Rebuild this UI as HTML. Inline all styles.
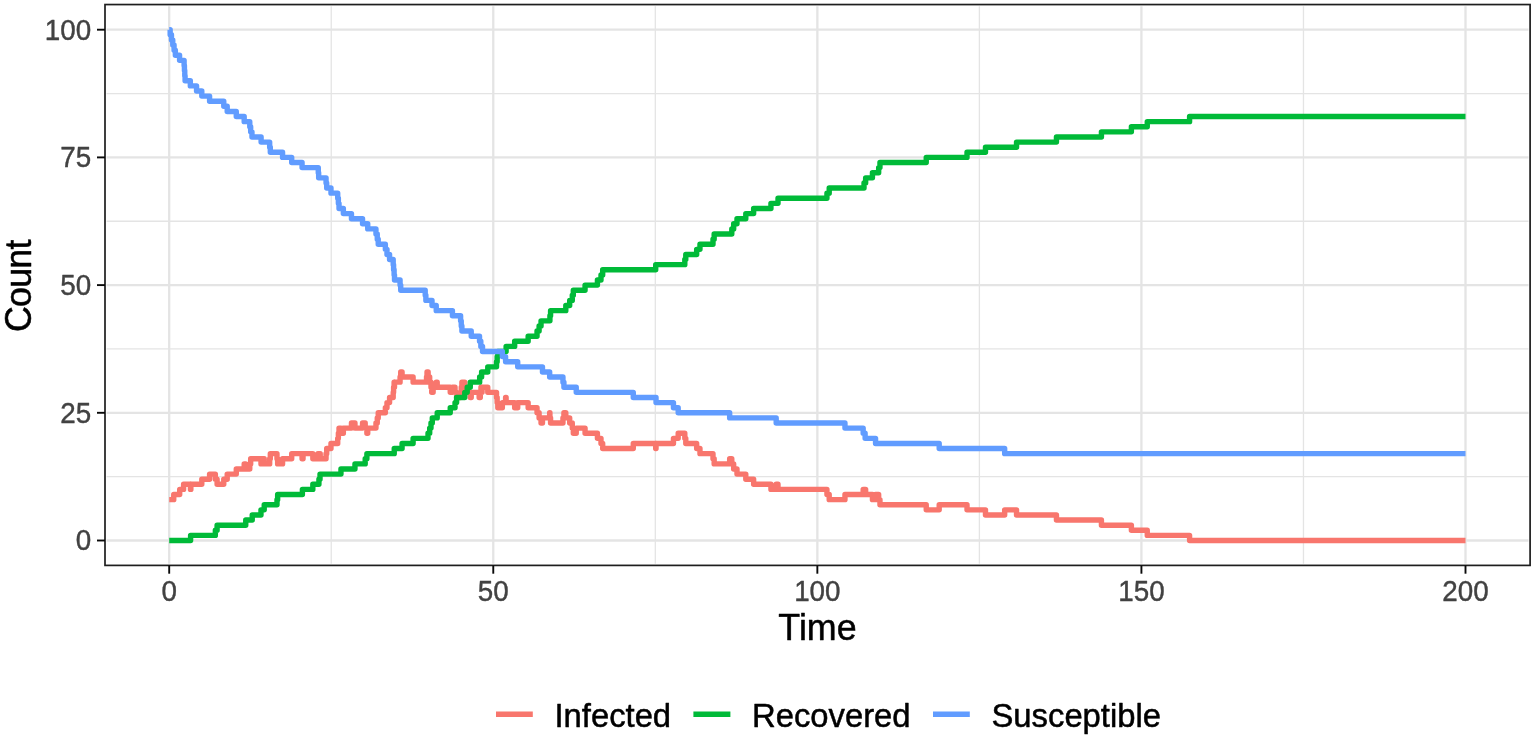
<!DOCTYPE html>
<html lang="en">
<head>
<meta charset="utf-8">
<title>Count over Time</title>
<style>
html,body{margin:0;padding:0;background:#fff;}
body{width:1535px;height:737px;overflow:hidden;}
svg{display:block;}
.t{font-family:"Liberation Sans",Arial,Helvetica,sans-serif;}
</style>
</head>
<body>
<svg width="1535" height="737" viewBox="0 0 1535 737">
<rect width="1535" height="737" fill="#fff"/>
<g stroke="#e4e4e4" fill="none">
<line x1="331.24" x2="331.24" y1="6.15" y2="563.8" stroke-width="1.3"/>
<line x1="655.31" x2="655.31" y1="6.15" y2="563.8" stroke-width="1.3"/>
<line x1="979.39" x2="979.39" y1="6.15" y2="563.8" stroke-width="1.3"/>
<line x1="1303.46" x2="1303.46" y1="6.15" y2="563.8" stroke-width="1.3"/>
<line y1="476.65" y2="476.65" x1="106.6" x2="1528.5" stroke-width="1.3"/>
<line y1="348.95" y2="348.95" x1="106.6" x2="1528.5" stroke-width="1.3"/>
<line y1="221.25" y2="221.25" x1="106.6" x2="1528.5" stroke-width="1.3"/>
<line y1="93.55" y2="93.55" x1="106.6" x2="1528.5" stroke-width="1.3"/>
<line x1="169.20" x2="169.20" y1="6.15" y2="563.8" stroke-width="2.3"/>
<line x1="493.27" x2="493.27" y1="6.15" y2="563.8" stroke-width="2.3"/>
<line x1="817.35" x2="817.35" y1="6.15" y2="563.8" stroke-width="2.3"/>
<line x1="1141.42" x2="1141.42" y1="6.15" y2="563.8" stroke-width="2.3"/>
<line x1="1465.50" x2="1465.50" y1="6.15" y2="563.8" stroke-width="2.3"/>
<line y1="540.50" y2="540.50" x1="106.6" x2="1528.5" stroke-width="2.3"/>
<line y1="412.80" y2="412.80" x1="106.6" x2="1528.5" stroke-width="2.3"/>
<line y1="285.10" y2="285.10" x1="106.6" x2="1528.5" stroke-width="2.3"/>
<line y1="157.40" y2="157.40" x1="106.6" x2="1528.5" stroke-width="2.3"/>
<line y1="29.70" y2="29.70" x1="106.6" x2="1528.5" stroke-width="2.3"/>
</g>
<g fill="none" stroke-width="5.4" stroke-linejoin="round" stroke-linecap="butt">
<path stroke="#f8766d" d="M169.2,499.64L173.74,499.64L173.74,494.53L179.7,494.53L179.7,489.42L183.59,489.42L183.59,484.31L190.46,484.31L190.46,489.42L190.85,489.42L190.85,484.31L201.8,484.31L201.8,479.2L209.58,479.2L209.58,474.1L215.35,474.1L215.35,479.2L217.1,479.2L217.1,484.31L223.77,484.31L223.77,479.2L227.21,479.2L227.21,474.1L236.28,474.1L236.28,468.99L244.19,468.99L244.19,463.88L245.75,463.88L245.75,468.99L249.77,468.99L249.77,463.88L250.67,463.88L250.67,458.77L260.98,458.77L260.98,463.88L261.56,463.88L261.56,458.77L264.22,458.77L264.22,463.88L269.66,463.88L269.66,458.77L270.31,458.77L270.31,453.66L276.99,453.66L276.99,458.77L277.64,458.77L277.64,463.88L282.56,463.88L282.56,458.77L291.7,458.77L291.7,453.66L302.07,453.66L302.07,458.77L303.04,458.77L303.04,453.66L312.83,453.66L312.83,458.77L317.95,458.77L317.95,453.66L320.22,453.66L320.22,458.77L326.05,458.77L326.05,453.66L326.7,453.66L326.7,448.56L330.98,448.56L330.98,443.45L337.72,443.45L337.72,438.34L338.37,438.34L338.37,433.23L339.02,433.23L339.02,428.12L340.96,428.12L340.96,433.23L343.36,433.23L343.36,428.12L351.46,428.12L351.46,423.02L354.96,423.02L354.96,428.12L362.54,428.12L362.54,423.02L365.2,423.02L365.2,428.12L366.89,428.12L366.89,433.23L367.73,433.23L367.73,428.12L375.96,428.12L375.96,423.02L377.26,423.02L377.26,417.91L378.23,417.91L378.23,412.8L385.36,412.8L385.36,407.69L386.98,407.69L386.98,402.58L389.57,402.58L389.57,397.48L393.2,397.48L393.2,392.37L393.59,392.37L393.59,387.26L394.11,387.26L394.11,382.15L394.24,382.15L394.24,387.26L394.5,387.26L394.5,382.15L400.07,382.15L400.07,377.04L400.72,377.04L400.72,371.94L402.08,371.94L402.08,377.04L413.1,377.04L413.1,382.15L426.52,382.15L426.52,377.04L427.03,377.04L427.03,371.94L428.14,371.94L428.14,377.04L429.69,377.04L429.69,382.15L430.99,382.15L430.99,387.26L431.7,387.26L431.7,392.37L433.13,392.37L433.13,387.26L436.24,387.26L436.24,382.15L437.21,382.15L437.21,387.26L450.24,387.26L450.24,392.37L452.44,392.37L452.44,387.26L455.03,387.26L455.03,392.37L456.59,392.37L456.59,397.48L460.61,397.48L460.61,392.37L461.26,392.37L461.26,387.26L461.9,387.26L461.9,382.15L464.76,382.15L464.76,387.26L467.22,387.26L467.22,392.37L470.27,392.37L470.27,397.48L471.24,397.48L471.24,392.37L479.15,392.37L479.15,397.48L480.31,397.48L480.31,392.37L480.96,392.37L480.96,387.26L481.61,387.26L481.61,392.37L482.06,392.37L482.06,387.26L487.77,387.26L487.77,392.37L496.52,392.37L496.52,397.48L497.16,397.48L497.16,402.58L497.81,402.58L497.81,407.69L502.35,407.69L502.35,402.58L505.59,402.58L505.59,397.48L506.11,397.48L506.11,402.58L514.66,402.58L514.66,407.69L517.71,407.69L517.71,402.58L528.15,402.58L528.15,407.69L537.03,407.69L537.03,412.8L539.1,412.8L539.1,417.91L541.04,417.91L541.04,423.02L542.47,423.02L542.47,417.91L549.66,417.91L549.66,412.8L549.92,412.8L549.92,417.91L550.57,417.91L550.57,423.02L562.95,423.02L562.95,417.91L563.92,417.91L563.92,412.8L565.8,412.8L565.8,417.91L569.69,417.91L569.69,423.02L572.28,423.02L572.28,428.12L573.32,428.12L573.32,433.23L576.24,433.23L576.24,428.12L585.05,428.12L585.05,433.23L597.43,433.23L597.43,438.34L601,438.34L601,443.45L602.68,443.45L602.68,448.56L633.28,448.56L633.28,443.45L655.7,443.45L655.7,448.56L656.03,448.56L656.03,443.45L673.46,443.45L673.46,438.34L678.19,438.34L678.19,433.23L684.8,433.23L684.8,438.34L685.78,438.34L685.78,443.45L696.66,443.45L696.66,448.56L699.97,448.56L699.97,453.66L713,453.66L713,458.77L714.16,458.77L714.16,463.88L729.66,463.88L729.66,458.77L731.79,458.77L731.79,463.88L733.67,463.88L733.67,468.99L736.98,468.99L736.98,474.1L745.79,474.1L745.79,479.2L753.64,479.2L753.64,484.31L770.94,484.31L770.94,489.42L776.19,489.42L776.19,484.31L778.01,484.31L778.01,489.42L826.94,489.42L826.94,494.53L829.21,494.53L829.21,499.64L844.96,499.64L844.96,494.53L863.17,494.53L863.17,489.42L864.02,489.42L864.02,494.53L865.12,494.53L865.12,489.42L865.64,489.42L865.64,494.53L872.44,494.53L872.44,499.64L875.55,499.64L875.55,494.53L878.66,494.53L878.66,499.64L879.96,499.64L879.96,504.74L926.24,504.74L926.24,509.85L939.2,509.85L939.2,504.74L967.01,504.74L967.01,509.85L985.48,509.85L985.48,514.96L1004.67,514.96L1004.67,509.85L1016.53,509.85L1016.53,514.96L1056.45,514.96L1056.45,520.07L1101.43,520.07L1101.43,525.18L1131.38,525.18L1131.38,530.28L1147.26,530.28L1147.26,535.39L1189.58,535.39L1189.58,540.5L1465.5,540.5"/>
<path stroke="#00ba38" d="M169.2,540.5L190.59,540.5L190.59,535.39L215.35,535.39L215.35,530.28L217.1,530.28L217.1,525.18L245.75,525.18L245.75,520.07L252.23,520.07L252.23,514.96L260.98,514.96L260.98,509.85L264.22,509.85L264.22,504.74L276.99,504.74L276.99,499.64L277.64,499.64L277.64,494.53L302.39,494.53L302.39,489.42L312.83,489.42L312.83,484.31L318.92,484.31L318.92,479.2L320.02,479.2L320.02,474.1L340.96,474.1L340.96,468.99L354.96,468.99L354.96,463.88L365.2,463.88L365.2,458.77L366.89,458.77L366.89,453.66L394.24,453.66L394.24,448.56L402.08,448.56L402.08,443.45L413.1,443.45L413.1,438.34L428.01,438.34L428.01,433.23L429.69,433.23L429.69,428.12L430.99,428.12L430.99,423.02L432.28,423.02L432.28,417.91L437.21,417.91L437.21,412.8L450.24,412.8L450.24,407.69L455.03,407.69L455.03,402.58L456.59,402.58L456.59,397.48L464.76,397.48L464.76,392.37L467.22,392.37L467.22,387.26L470.27,387.26L470.27,382.15L479.66,382.15L479.66,377.04L481.61,377.04L481.61,371.94L487.77,371.94L487.77,366.83L496.52,366.83L496.52,361.72L497.16,361.72L497.16,356.61L497.81,356.61L497.81,351.5L506.11,351.5L506.11,346.4L514.66,346.4L514.66,341.29L528.15,341.29L528.15,336.18L537.03,336.18L537.03,331.07L539.1,331.07L539.1,325.96L541.04,325.96L541.04,320.86L549.92,320.86L549.92,315.75L550.57,315.75L550.57,310.64L565.8,310.64L565.8,305.53L569.69,305.53L569.69,300.42L572.28,300.42L572.28,295.32L573.32,295.32L573.32,290.21L585.05,290.21L585.05,285.1L597.43,285.1L597.43,279.99L601,279.99L601,274.88L602.68,274.88L602.68,269.78L655.7,269.78L655.7,264.67L684.8,264.67L684.8,259.56L685.78,259.56L685.78,254.45L696.66,254.45L696.66,249.34L699.97,249.34L699.97,244.24L713,244.24L713,239.13L714.16,239.13L714.16,234.02L731.79,234.02L731.79,228.91L733.67,228.91L733.67,223.8L736.98,223.8L736.98,218.7L745.79,218.7L745.79,213.59L753.64,213.59L753.64,208.48L770.94,208.48L770.94,203.37L778.01,203.37L778.01,198.26L826.94,198.26L826.94,193.16L829.21,193.16L829.21,188.05L864.02,188.05L864.02,182.94L865.64,182.94L865.64,177.83L872.44,177.83L872.44,172.72L878.66,172.72L878.66,167.62L879.96,167.62L879.96,162.51L926.24,162.51L926.24,157.4L967.01,157.4L967.01,152.29L985.48,152.29L985.48,147.18L1016.53,147.18L1016.53,142.08L1056.45,142.08L1056.45,136.97L1101.43,136.97L1101.43,131.86L1131.38,131.86L1131.38,126.75L1147.26,126.75L1147.26,121.64L1189.58,121.64L1189.58,116.54L1465.5,116.54"/>
<path stroke="#619cff" d="M169.2,29.7L170.17,29.7L170.17,34.81L171.47,34.81L171.47,39.92L172.76,39.92L172.76,45.02L174.06,45.02L174.06,50.13L175.36,50.13L175.36,55.24L179.57,55.24L179.57,60.35L184.11,60.35L184.11,65.46L184.43,65.46L184.43,70.56L184.76,70.56L184.76,75.67L185.08,75.67L185.08,80.78L190.33,80.78L190.33,85.89L196.55,85.89L196.55,91L201.8,91L201.8,96.1L209.58,96.1L209.58,101.21L223.77,101.21L223.77,106.32L227.21,106.32L227.21,111.43L236.28,111.43L236.28,116.54L244.19,116.54L244.19,121.64L249.77,121.64L249.77,126.75L250.67,126.75L250.67,131.86L251.97,131.86L251.97,136.97L261.11,136.97L261.11,142.08L269.66,142.08L269.66,147.18L270.31,147.18L270.31,152.29L282.56,152.29L282.56,157.4L291.7,157.4L291.7,162.51L302.07,162.51L302.07,167.62L318.27,167.62L318.27,172.72L318.66,172.72L318.66,177.83L326.05,177.83L326.05,182.94L326.7,182.94L326.7,188.05L330.98,188.05L330.98,193.16L337.72,193.16L337.72,198.26L338.37,198.26L338.37,203.37L339.02,203.37L339.02,208.48L343.36,208.48L343.36,213.59L351.46,213.59L351.46,218.7L362.54,218.7L362.54,223.8L367.73,223.8L367.73,228.91L375.96,228.91L375.96,234.02L377.26,234.02L377.26,239.13L378.23,239.13L378.23,244.24L385.36,244.24L385.36,249.34L386.98,249.34L386.98,254.45L389.57,254.45L389.57,259.56L393.2,259.56L393.2,264.67L393.59,264.67L393.59,269.78L394.11,269.78L394.11,274.88L394.5,274.88L394.5,279.99L400.07,279.99L400.07,285.1L400.72,285.1L400.72,290.21L425.22,290.21L425.22,295.32L425.87,295.32L425.87,300.42L432.02,300.42L432.02,305.53L436.24,305.53L436.24,310.64L452.44,310.64L452.44,315.75L460.61,315.75L460.61,320.86L461.26,320.86L461.26,325.96L461.9,325.96L461.9,331.07L471.24,331.07L471.24,336.18L479.53,336.18L479.53,341.29L480.83,341.29L480.83,346.4L482.52,346.4L482.52,351.5L502.35,351.5L502.35,356.61L505.59,356.61L505.59,361.72L517.71,361.72L517.71,366.83L542.47,366.83L542.47,371.94L549.66,371.94L549.66,377.04L562.95,377.04L562.95,382.15L563.92,382.15L563.92,387.26L576.24,387.26L576.24,392.37L633.28,392.37L633.28,397.48L656.03,397.48L656.03,402.58L673.46,402.58L673.46,407.69L678.19,407.69L678.19,412.8L729.66,412.8L729.66,417.91L776.19,417.91L776.19,423.02L844.96,423.02L844.96,428.12L863.17,428.12L863.17,433.23L865.12,433.23L865.12,438.34L875.55,438.34L875.55,443.45L939.2,443.45L939.2,448.56L1004.67,448.56L1004.67,453.66L1465.5,453.66"/>
</g>
<rect x="105.0" y="4.55" width="1425.1" height="560.85" fill="none" stroke="#1e1e1e" stroke-width="1.7"/>
<g stroke="#0a0a0a" stroke-width="1.9">
<line x1="169.20" x2="169.20" y1="565.4" y2="573.6999999999999"/>
<line x1="493.27" x2="493.27" y1="565.4" y2="573.6999999999999"/>
<line x1="817.35" x2="817.35" y1="565.4" y2="573.6999999999999"/>
<line x1="1141.42" x2="1141.42" y1="565.4" y2="573.6999999999999"/>
<line x1="1465.50" x2="1465.50" y1="565.4" y2="573.6999999999999"/>
<line y1="540.50" y2="540.50" x1="97.0" x2="105.0"/>
<line y1="412.80" y2="412.80" x1="97.0" x2="105.0"/>
<line y1="285.10" y2="285.10" x1="97.0" x2="105.0"/>
<line y1="157.40" y2="157.40" x1="97.0" x2="105.0"/>
<line y1="29.70" y2="29.70" x1="97.0" x2="105.0"/>
</g>
<g class="t" font-size="27.8" fill="#424242" stroke="#424242" stroke-width="0.4" stroke-linejoin="round">
<text transform="translate(169.20,600.60) scale(1,1.04)" text-anchor="middle">0</text>
<text transform="translate(493.27,600.60) scale(1,1.04)" text-anchor="middle">50</text>
<text transform="translate(817.35,600.60) scale(1,1.04)" text-anchor="middle">100</text>
<text transform="translate(1141.42,600.60) scale(1,1.04)" text-anchor="middle">150</text>
<text transform="translate(1465.50,600.60) scale(1,1.04)" text-anchor="middle">200</text>
<text transform="translate(91.20,550.40) scale(1,1.04)" text-anchor="end">0</text>
<text transform="translate(91.20,422.70) scale(1,1.04)" text-anchor="end">25</text>
<text transform="translate(91.20,295.00) scale(1,1.04)" text-anchor="end">50</text>
<text transform="translate(91.20,167.30) scale(1,1.04)" text-anchor="end">75</text>
<text transform="translate(91.20,39.60) scale(1,1.04)" text-anchor="end">100</text>
</g>
<g class="t" font-size="35.8" fill="#000" stroke="#000" stroke-width="0.5" stroke-linejoin="round">
<text transform="translate(817.45,640.20) scale(1,1.03)" text-anchor="middle">Time</text>
<text transform="translate(30.80,285.80) rotate(-90) scale(1,1.03)" text-anchor="middle" textLength="92.3" lengthAdjust="spacing">Count</text>
</g>
<g fill="none" stroke-width="5.4">
<line x1="496" x2="532.8" y1="714.3" y2="714.3" stroke="#f8766d"/>
<line x1="693.4" x2="730.4" y1="714.3" y2="714.3" stroke="#00ba38"/>
<line x1="933" x2="969.8" y1="714.3" y2="714.3" stroke="#619cff"/>
</g>
<g class="t" font-size="32.8" fill="#000" stroke="#000" stroke-width="0.5" stroke-linejoin="round">
<text transform="translate(554.45,726.80) scale(1,1.03)">Infected</text>
<text transform="translate(752.00,726.80) scale(1,1.03)">Recovered</text>
<text transform="translate(991.50,726.80) scale(1,1.03)">Susceptible</text>
</g>
</svg>
</body>
</html>
